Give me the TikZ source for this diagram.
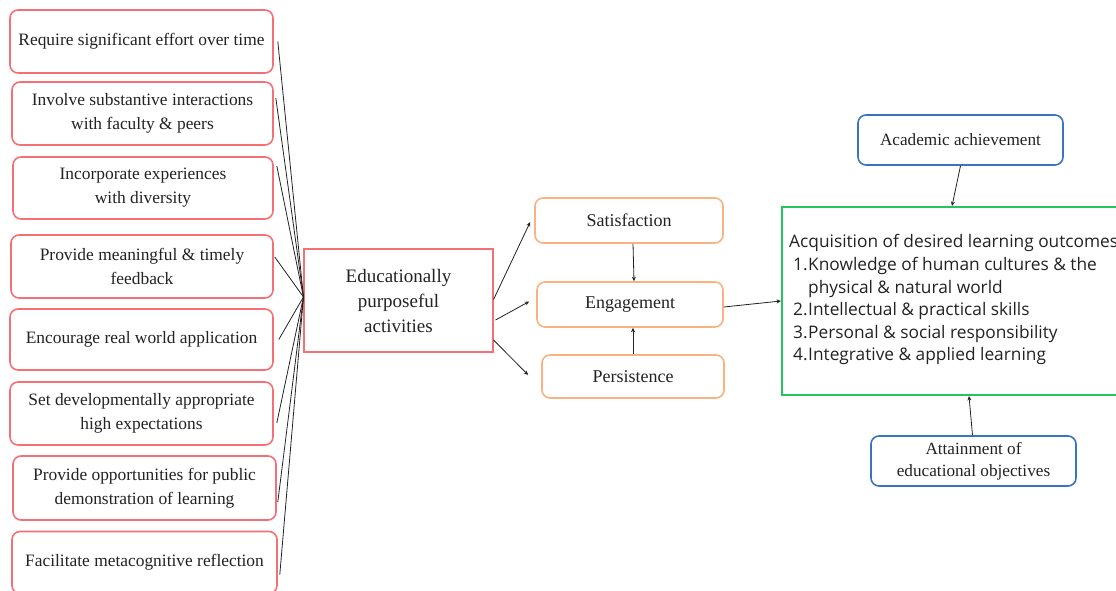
\documentclass[tikz,border=0pt]{standalone}
\usepackage{fontspec}
\setmainfont{Liberation Serif}
\newfontfamily\gsans{Open Sans}
\usetikzlibrary{arrows.meta,calc}
\definecolor{boxred}{RGB}{244,112,116}
\definecolor{boxorange}{RGB}{249,178,128}
\definecolor{boxblue}{RGB}{58,114,196}
\definecolor{boxgreen}{RGB}{38,196,96}
\definecolor{txt}{RGB}{34,34,34}
\tikzset{
  lbox/.style={draw=boxred, line width=1.6pt, rounded corners=8pt, align=center,
    font=\fontsize{17.4}{24}\selectfont, text=txt, inner sep=0pt},
  obox/.style={draw=boxorange, line width=1.6pt, rounded corners=8pt, align=center,
    font=\fontsize{18}{24}\selectfont, text=txt, inner sep=0pt,
    minimum height=45pt},
  bbox/.style={draw=boxblue, line width=1.6pt, rounded corners=8pt, align=center,
    font=\fontsize{17.2}{22}\selectfont, text=txt, inner sep=0pt,
    minimum width=205pt, minimum height=50pt},
  conn/.style={draw=txt, line width=0.8pt},
  arr/.style={conn, -{Stealth[length=4.5pt,width=4pt]}},
}
\begin{document}
\begin{tikzpicture}[x=1pt,y=-1pt]
\useasboundingbox (0,0) rectangle (1116,591);
\begin{scope}
\clip (0,0) rectangle (1116,591);
% left boxes
\node[lbox, minimum width=263pt, minimum height=63pt] (b1) at (141.5,41.5) {Require significant effort over time};
\node[lbox, minimum width=261pt, minimum height=63pt] (b2) at (142.5,113.5) {Involve substantive interactions\\with faculty \& peers};
\node[lbox, minimum width=260pt, minimum height=62pt] (b3) at (143,188) {Incorporate experiences\\with diversity};
\node[lbox, minimum width=262pt, minimum height=63pt] (b4) at (142,266.5) {Provide meaningful \& timely\\feedback};
\node[lbox, minimum width=263pt, minimum height=61pt] (b5) at (141.5,339.5) {Encourage real world application};
\node[lbox, minimum width=263pt, minimum height=63pt] (b6) at (141.5,413.5) {Set developmentally appropriate\\high expectations};
\node[lbox, minimum width=263pt, minimum height=64pt] (b7) at (144.5,488) {Provide opportunities for public\\demonstration of learning};
\node[lbox, minimum width=265pt, minimum height=62pt] (b8) at (144.5,562.5) {Facilitate metacognitive reflection};

% central box
\node[draw=boxred, line width=1.1pt, align=center, font=\fontsize{19}{25}\selectfont,
  text=txt, minimum width=189pt, minimum height=103pt, inner sep=0pt] (cb) at (398.5,300.5)
  {Educationally\\purposeful\\activities};

% orange boxes
\node[obox, minimum width=188pt] (sat) at (629,220.5) {Satisfaction};
\node[obox, minimum width=186pt] (eng) at (630,304.5) {Engagement};
\node[obox, minimum width=182pt, minimum height=43pt] (per) at (633,376.5) {Persistence};

% green box
\node[draw=boxgreen, line width=2pt, minimum width=360pt, minimum height=188pt,
  inner sep=0pt] (gb) at (962,301) {};
\node[anchor=north west, align=left, inner sep=0pt, text=txt,
  font=\gsans\fontsize{17.3}{22.6}\selectfont] (gt) at (789,234.5)
  {Acquisition of desired learning outcomes\\
   \hspace*{4pt}\makebox[15pt][l]{1.}Knowledge of human cultures \& the\\
   \hspace*{19pt}physical \& natural world\\
   \hspace*{4pt}\makebox[15pt][l]{2.}Intellectual \& practical skills\\
   \hspace*{4pt}\makebox[15pt][l]{3.}Personal \& social responsibility\\
   \hspace*{4pt}\makebox[15pt][l]{4.}Integrative \& applied learning};

% blue boxes
\node[bbox] (acad) at (960.5,140) {Academic achievement};
\node[bbox] (att) at (973.5,461) {Attainment of\\educational objectives};
\end{scope}

% connectors from left boxes
\coordinate (hub) at ($(cb.west)+(0,-3.5)$);
\draw[conn] ([xshift=4pt]b1.east) -- (hub);
\draw[conn] ([xshift=2pt,yshift=15.5pt]b2.east) -- (hub);
\draw[conn] ([xshift=3pt,yshift=22pt]b3.east) -- (hub);
\draw[conn] ([xshift=1pt,yshift=9.5pt]b4.east) -- (hub);
\draw[conn] ([xshift=5pt]b5.east) -- (hub);
\draw[conn] ([xshift=3pt,yshift=-9.5pt]b6.east) -- (hub);
\draw[conn] ([xshift=1pt,yshift=-14pt]b7.east) -- (hub);
\draw[conn] ([xshift=2pt,yshift=-12pt]b8.east) -- (hub);

% central to orange
\draw[arr] ([yshift=1pt]cb.east) -- ($(sat.west)+(-4,1.5)$);
\draw[arr] ([xshift=2pt,yshift=-19.5pt]cb.east) -- ($(eng.west)+(-7,-3)$);
\draw[arr] ([yshift=-39.5pt]cb.east) -- ($(per.west)+(-13,-1.5)$);

% orange vertical
\draw[arr] ([xshift=4pt]sat.south) -- ([xshift=4pt]eng.north);
\draw[arr] ([xshift=0pt]per.north) -- ([xshift=3pt]eng.south);

% engagement to green
\draw[arr] ([yshift=-2.5pt]eng.east) -- (gb.west);

% blue to green
\draw[arr] (acad.south) -- ($(gb.north west)+(171,0)$);
\draw[arr] ([xshift=-1pt]att.north) -- ($(gb.south west)+(188,0)$);
\end{tikzpicture}
\end{document}
